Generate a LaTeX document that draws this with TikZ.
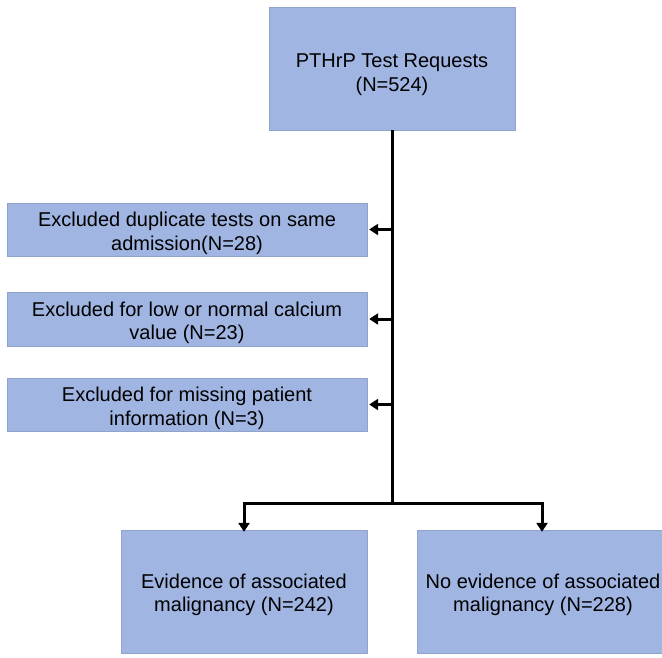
\documentclass[tikz,border=0pt]{standalone}
\usepackage{fontspec}
\setmainfont{Liberation Sans}
\usetikzlibrary{arrows.meta}
\definecolor{boxblue}{RGB}{160,181,226}
\begin{document}
\begin{tikzpicture}[x=1pt,y=-1pt,
  fbox/.style={fill=boxblue,draw=boxblue!90!black,line width=0.3pt,inner sep=0pt},
  ftxt/.style={inner sep=0pt,align=center,font=\fontsize{20}{23.5}\selectfont},
  conn/.style={line width=3pt,-{Triangle[length=9pt,width=11pt]}},
  plain/.style={line width=3pt}]
\useasboundingbox (0,0) rectangle (662,657);
\node[fbox,minimum width=246pt,minimum height=123pt] (top) at (392,68.5) {};
\node[ftxt] (topt) at ([yshift=-6pt]top.center) {PTHrP Test Requests\\(N=524)};
\node[fbox,minimum width=360pt,minimum height=53pt] (e1) at (187,229.5) {};
\node[ftxt] (e1t) at ([yshift=-4pt]e1.center) {Excluded duplicate tests on same\\admission(N=28)};
\node[fbox,minimum width=360pt,minimum height=54pt] (e2) at (187,319) {};
\node[ftxt] (e2t) at ([yshift=-4pt]e2.center) {Excluded for low or normal calcium\\value (N=23)};
\node[fbox,minimum width=360pt,minimum height=53pt] (e3) at (187,404.5) {};
\node[ftxt] (e3t) at ([yshift=-4pt]e3.center) {Excluded for missing patient\\information (N=3)};
\node[fbox,minimum width=246pt,minimum height=123pt] (b1) at (244,591.5) {};
\node[ftxt] (b1t) at (244,595) {Evidence of associated\\malignancy (N=242)};
\node[fbox,minimum width=254pt,minimum height=123pt] (b2) at (544,591.5) {};
\node[ftxt] (b2t) at (543,595) {No evidence of associated\\malignancy (N=228)};
\coordinate (split) at (top.south |- 0,503);
\coordinate (j1) at (top.south |- e1.east);
\coordinate (j2) at (top.south |- e2.east);
\coordinate (j3) at (top.south |- e3.east);
\draw[plain] (top.south) -- (split);
\draw[conn] (j1) -- ([xshift=2pt]e1.east);
\draw[conn] (j2) -- ([xshift=2pt]e2.east);
\draw[conn] (j3) -- ([xshift=2pt]e3.east);
\draw[conn] (split) -| ([yshift=-2pt]b1.north);
\draw[conn] (split) -| ([xshift=-2pt,yshift=-2pt]b2.north);
\end{tikzpicture}
\end{document}
